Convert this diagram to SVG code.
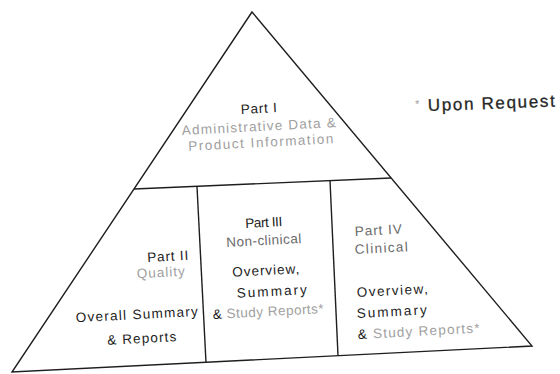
<svg xmlns="http://www.w3.org/2000/svg" width="560" height="374" viewBox="0 0 560 374">
  <style>
    .edge { fill: none; stroke: #1e1e1e; stroke-width: 1.4; stroke-linejoin: miter; }
    text { font-family: "Liberation Sans", Arial, sans-serif; font-size: 13.5px; fill: #1c1c1c; }
    .mid { text-anchor: middle; }
    .soft { fill: #a0a0a0; }
    .dim { fill: #6a6a6a; }
    .note { font-size: 17px; fill: #262626; stroke: #262626; stroke-width: 0.3; }
  </style>
  <rect width="560" height="374" fill="#ffffff"/>

  <!-- pyramid outline and the section dividers -->
  <g id="outline">
    <polygon class="edge" points="252,12 12,372 532,346"/>
    <line class="edge" x1="134" y1="189" x2="391" y2="178"/>
    <line class="edge" x1="197" y1="186.5" x2="206" y2="362.5"/>
    <line class="edge" x1="330" y1="180.5" x2="338" y2="355.5"/>
  </g>

  <!-- Part I: top of the pyramid -->
  <g id="part1">
    <text class="mid" x="259" y="113" textLength="36" transform="rotate(-3 259 113)">Part I</text>
    <text class="mid soft" x="259" y="131" textLength="154" transform="rotate(-3 259 131)">Administrative Data &amp;</text>
    <text class="mid soft" x="261" y="147" textLength="145" transform="rotate(-3 261 147)">Product Information</text>
  </g>

  <!-- Part II: quality -->
  <g id="part2">
    <text class="mid" x="168" y="261" textLength="41" transform="rotate(-3 168 261)">Part II</text>
    <text class="mid soft" x="161" y="277" textLength="48" transform="rotate(-3 161 277)">Quality</text>
    <text class="mid" x="137" y="319" textLength="122" transform="rotate(-3 137 319)">Overall Summary</text>
    <text class="mid" x="142" y="343" textLength="69" transform="rotate(-3 142 343)">&amp; Reports</text>
  </g>

  <!-- Part III: non-clinical -->
  <g id="part3">
    <text class="mid" x="264" y="227" textLength="37" transform="rotate(-3 264 227)">Part III</text>
    <text class="mid dim" x="264" y="245" textLength="75" transform="rotate(-3 264 245)">Non-clinical</text>
    <text class="mid" x="266" y="275" textLength="67" transform="rotate(-3 266 275)">Overview,</text>
    <text class="mid" x="272" y="296" textLength="70" transform="rotate(-3 272 296)">Summary</text>
    <text x="213" y="319" textLength="111" transform="rotate(-3 213 319)">&amp; <tspan class="soft">Study Reports*</tspan></text>
  </g>

  <!-- Part IV: clinical -->
  <g id="part4">
    <text class="dim" x="355" y="236" textLength="47" transform="rotate(-3 355 236)">Part IV</text>
    <text class="dim" x="355" y="254" textLength="53" transform="rotate(-3 355 254)">Clinical</text>
    <text x="357" y="297" textLength="71" transform="rotate(-3 357 297)">Overview,</text>
    <text x="357" y="318" textLength="70" transform="rotate(-3 357 318)">Summary</text>
    <text x="358" y="339" textLength="122" transform="rotate(-3 358 339)">&amp; <tspan class="soft">Study Reports*</tspan></text>
  </g>

  <!-- footnote marker -->
  <g id="footnote">
    <text class="soft" x="415" y="108" style="font-size:11px">*</text>
    <text class="note" x="428" y="111" textLength="127" transform="rotate(-2 428 111)">Upon Request</text>
  </g>
</svg>
